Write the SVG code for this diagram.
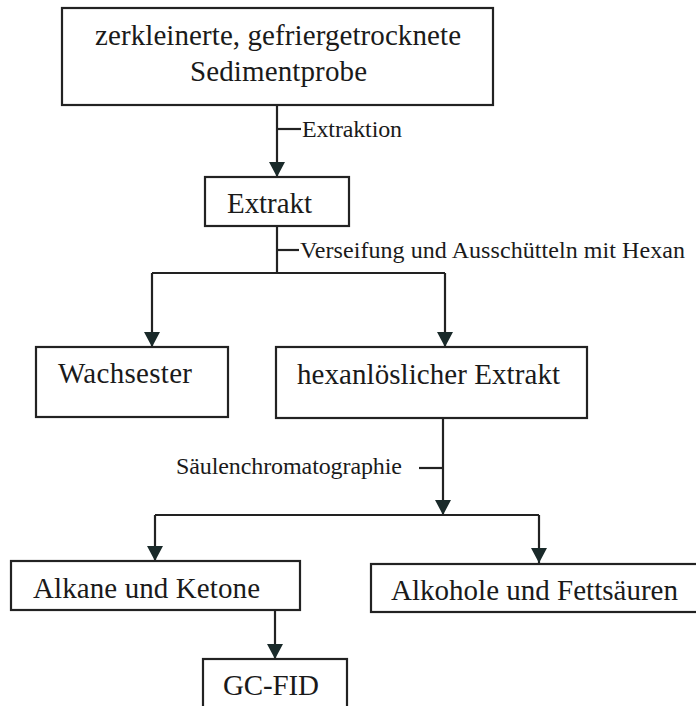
<svg xmlns="http://www.w3.org/2000/svg" width="696" height="706" viewBox="0 0 696 706">
<style>
.box{fill:#fff;stroke:#222;stroke-width:2.2}
.t{font-family:"Liberation Serif","Times New Roman",serif;fill:#1a1a1a;font-size:29px}
.s{font-family:"Liberation Serif","Times New Roman",serif;fill:#1a1a1a;font-size:24px}
.c{fill:none;stroke:#222;stroke-width:2.2}
</style>
<defs>
<marker id="ah" markerUnits="userSpaceOnUse" markerWidth="16" markerHeight="16" viewBox="0 0 16 16" refX="15" refY="8" orient="auto">
<path d="M0,0 L15,8 L0,16 Z" fill="#1a2a2a"/>
</marker>
</defs>
<rect width="696" height="706" fill="#fff"/>
<g id="connectors">
<path class="c" d="M277,105 V177" marker-end="url(#ah)"/>
<path class="c" d="M277,129 H301"/>
<path class="c" d="M277,226 V273"/>
<path class="c" d="M277,250 H299"/>
<path class="c" d="M152,273 H445"/>
<path class="c" d="M152,273 V347" marker-end="url(#ah)"/>
<path class="c" d="M445,273 V347" marker-end="url(#ah)"/>
<path class="c" d="M443,419 V515" marker-end="url(#ah)"/>
<path class="c" d="M419,468 H443"/>
<path class="c" d="M155,515 H539"/>
<path class="c" d="M155,515 V561" marker-end="url(#ah)"/>
<path class="c" d="M539,515 V563" marker-end="url(#ah)"/>
<path class="c" d="M275,611 V659" marker-end="url(#ah)"/>
<text class="s" x="302" y="137" textLength="100">Extraktion</text>
<text class="s" x="300" y="258" textLength="385">Verseifung und Ausschütteln mit Hexan</text>
<text class="s" x="176" y="474" textLength="226">Säulenchromatographie</text>
</g>
<g id="n1">
<rect class="box" x="62" y="8" width="431" height="97"/>
<text class="t" x="95" y="45" textLength="366">zerkleinerte, gefriergetrocknete</text>
<text class="t" x="190" y="81" textLength="177">Sedimentprobe</text>
</g>
<g id="n2">
<rect class="box" x="205" y="177" width="144" height="49"/>
<text class="t" x="227" y="213" textLength="85">Extrakt</text>
</g>
<g id="n3">
<rect class="box" x="36" y="347" width="192" height="70"/>
<text class="t" x="58" y="383" textLength="134">Wachsester</text>
</g>
<g id="n4">
<rect class="box" x="276" y="347" width="311" height="71"/>
<text class="t" x="297" y="384" textLength="263">hexanlöslicher Extrakt</text>
</g>
<g id="n5">
<rect class="box" x="11" y="561" width="289" height="49"/>
<text class="t" x="33" y="598" textLength="227">Alkane und Ketone</text>
</g>
<g id="n6">
<rect class="box" x="371" y="564" width="330" height="48"/>
<text class="t" x="391" y="600" textLength="287">Alkohole und Fettsäuren</text>
</g>
<g id="n7">
<rect class="box" x="203" y="659" width="144" height="52"/>
<text class="t" x="223" y="695" textLength="96">GC-FID</text>
</g>
</svg>
